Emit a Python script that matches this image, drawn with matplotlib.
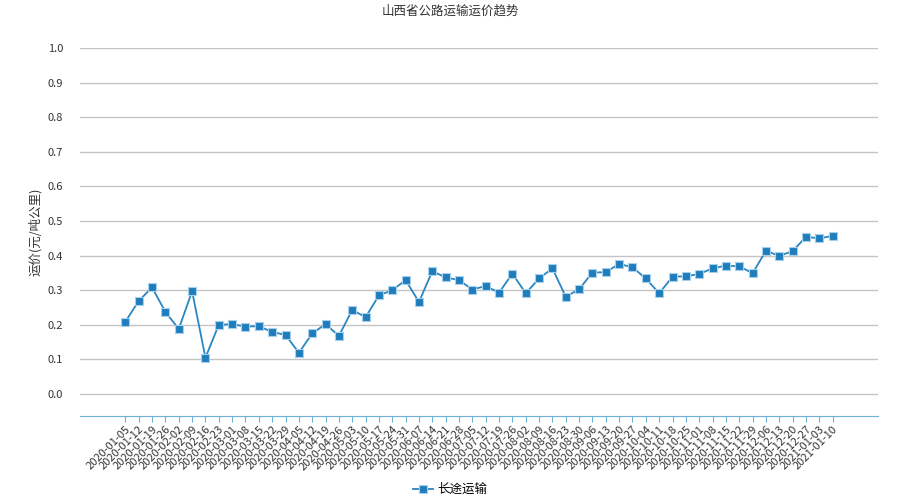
import matplotlib.pyplot as plt
import pandas as pd

plt.rcParams['font.family'] = ['Noto Sans CJK SC', 'DejaVu Sans']

# 数据
dates = pd.date_range('2020-01-05', '2021-01-10', freq='7D').strftime('%Y-%m-%d').tolist()
prices = [0.209, 0.269, 0.308, 0.237, 0.188, 0.297, 0.105, 0.200, 0.202, 0.195,
          0.196, 0.179, 0.171, 0.119, 0.175, 0.202, 0.168, 0.243, 0.222, 0.285,
          0.300, 0.329, 0.266, 0.355, 0.337, 0.329, 0.302, 0.312, 0.293, 0.348,
          0.291, 0.334, 0.363, 0.281, 0.303, 0.351, 0.352, 0.376, 0.366, 0.334,
          0.291, 0.339, 0.340, 0.347, 0.363, 0.371, 0.369, 0.349, 0.414, 0.399,
          0.413, 0.454, 0.450, 0.457]
yticks = [0.0, 0.1, 0.2, 0.3, 0.4, 0.5, 0.6, 0.7, 0.8, 0.9, 1.0]

fig = plt.figure(figsize=(9, 5), dpi=100)
ax = fig.add_axes([0.0889, 0.168, 0.8867, 0.736])

x = list(range(len(dates)))
ax.plot(x, prices, color='#2a86c2', linewidth=1.3, marker='s', markersize=6,
        markerfacecolor='#1f7dbd', markeredgecolor='#a8d0ea', markeredgewidth=0.8,
        label='长途运输', zorder=3)

ax.set_xlim(-3.4, len(dates) - 1 + 3.4)
ax.set_ylim(-0.0636, 1.0)
ax.set_yticks(yticks)
ax.set_yticklabels(['%.1f' % v for v in yticks])
ax.set_xticks(x)
ax.set_xticklabels(dates, rotation=45, ha='right', rotation_mode='anchor')

ax.grid(axis='y', color='#c4c4c4', linewidth=1)
ax.set_axisbelow(True)
for s in ['top', 'right', 'left']:
    ax.spines[s].set_visible(False)
ax.spines['bottom'].set_color('#6db3d8')
ax.tick_params(axis='y', length=0, labelsize=8, colors='#333333', pad=12)
ax.tick_params(axis='x', length=4, color='#6db3d8', labelsize=8, labelcolor='#333333', pad=2)

ax.set_ylabel('运价(元/吨公里)', fontsize=9, color='#333333', labelpad=4)
fig.suptitle('山西省公路运输运价趋势', fontsize=9, y=0.99, color='#333333')
fig.legend(loc='lower center', bbox_to_anchor=(0.5, -0.015), frameon=False, fontsize=9,
           handlelength=1.6, handletextpad=0.3)

plt.savefig('out.png')
